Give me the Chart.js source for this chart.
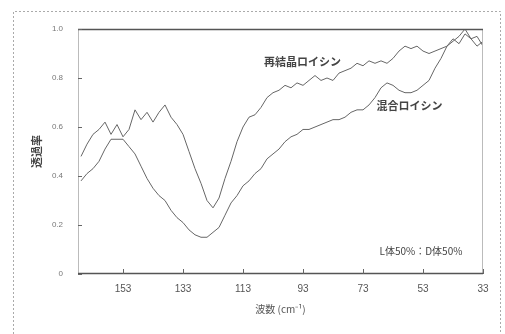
<!DOCTYPE html>
<html>
<head>
<meta charset="utf-8">
<script src="https://cdn.jsdelivr.net/npm/chart.js@4/dist/chart.umd.min.js"></script>
<style>
  html, body { margin: 0; padding: 0; background: #fff; }
  #chart { display: block; }
</style>
</head>
<body>
<canvas id="chart" width="505" height="334"></canvas>
<script>
// wave number (cm-1), read every 2 units off the picture
const waveNumbers = [167, 165, 163, 161, 159, 157, 155, 153, 151, 149, 147, 145, 143, 141, 139, 137, 135, 133, 131, 129,
    127, 125, 123, 121, 119, 117, 115, 113, 111, 109, 107, 105, 103, 101, 99, 97, 95, 93, 91, 89,
    87, 85, 83, 81, 79, 77, 75, 73, 71, 69, 67, 65, 63, 61, 59, 57, 55, 53, 51, 49,
    47, 45, 43, 41, 39, 37, 35, 33]

// 再結晶ロイシン
const recrystal = [0.48, 0.53, 0.57, 0.59, 0.62, 0.57, 0.61, 0.56, 0.59, 0.67, 0.63, 0.66, 0.62, 0.66, 0.69, 0.64, 0.61, 0.57, 0.50, 0.43,
    0.37, 0.30, 0.27, 0.31, 0.39, 0.46, 0.54, 0.60, 0.64, 0.65, 0.68, 0.72, 0.74, 0.75, 0.77, 0.76, 0.78, 0.77, 0.79, 0.81,
    0.79, 0.80, 0.79, 0.82, 0.83, 0.84, 0.86, 0.85, 0.87, 0.86, 0.87, 0.86, 0.88, 0.91, 0.93, 0.92, 0.93, 0.91, 0.90, 0.91,
    0.92, 0.93, 0.96, 0.94, 0.98, 0.96, 0.93, 0.95]

// 混合ロイシン
const mixed = [0.38, 0.41, 0.43, 0.46, 0.51, 0.55, 0.55, 0.55, 0.52, 0.49, 0.44, 0.39, 0.35, 0.32, 0.30, 0.26, 0.23, 0.21, 0.18, 0.16,
    0.15, 0.15, 0.17, 0.19, 0.24, 0.29, 0.32, 0.36, 0.38, 0.41, 0.43, 0.47, 0.49, 0.51, 0.54, 0.56, 0.57, 0.59, 0.59, 0.60,
    0.61, 0.62, 0.63, 0.63, 0.64, 0.66, 0.67, 0.67, 0.69, 0.72, 0.76, 0.78, 0.77, 0.75, 0.74, 0.74, 0.75, 0.77, 0.79, 0.84,
    0.88, 0.93, 0.95, 0.97, 1.00, 0.96, 0.97, 0.93]

const xTicks = [153, 133, 113, 93, 73, 53, 33]
const yTicks = [0, 0.2, 0.4, 0.6, 0.8, 1.0]

const labelFont = "'Liberation Sans', Arial, sans-serif"
const jpFont = "'Noto Sans CJK JP', 'Liberation Sans', sans-serif"

function toPoints(ys) {
    return waveNumbers.map((x, i) => ({ x: x, y: ys[i] }))
}

// frame, inside ticks and the text notes
const decor = {
    id: 'decor',
    beforeDraw(chart) {
        const c = chart.ctx
        c.save()
        c.strokeStyle = '#aaa'
        c.lineWidth = 1
        c.setLineDash([2, 2])
        c.beginPath()
        c.moveTo(13.5, 334)
        c.lineTo(13.5, 11.5)
        c.lineTo(500.5, 11.5)
        c.lineTo(500.5, 334)
        c.stroke()
        c.restore()
    },
    afterDatasetsDraw(chart) {
        const c = chart.ctx
        const a = chart.chartArea
        const xs = chart.scales.x
        const ys = chart.scales.y
        c.save()
        // plot box
        c.lineWidth = 1
        c.strokeStyle = '#bbb'
        c.beginPath()
        c.moveTo(Math.round(a.left) + 0.5, a.top)
        c.lineTo(Math.round(a.left) + 0.5, a.bottom)
        c.moveTo(Math.round(a.right) - 0.5, a.top)
        c.lineTo(Math.round(a.right) - 0.5, a.bottom)
        c.stroke()
        c.strokeStyle = '#555'
        c.lineWidth = 1.5
        c.beginPath()
        c.moveTo(a.left, Math.round(a.top) + 0.5)
        c.lineTo(a.right, Math.round(a.top) + 0.5)
        c.moveTo(a.left, Math.round(a.bottom) - 0.5)
        c.lineTo(a.right, Math.round(a.bottom) - 0.5)
        c.stroke()
        // ticks pointing inward
        c.lineWidth = 1
        c.strokeStyle = '#666'
        c.beginPath()
        xTicks.forEach(v => {
            const px = Math.round(xs.getPixelForValue(v)) + 0.5
            c.moveTo(px, a.bottom)
            c.lineTo(px, a.bottom - 5)
        })
        yTicks.forEach(v => {
            const py = Math.round(ys.getPixelForValue(v)) + 0.5
            c.moveTo(a.left, py)
            c.lineTo(a.left + 4, py)
        })
        c.stroke()
        // notes
        c.fillStyle = '#444'
        c.textBaseline = 'middle'
        c.font = 'bold 11px ' + jpFont
        c.fillText('再結晶ロイシン', xs.getPixelForValue(106), ys.getPixelForValue(0.865))
        c.fillText('混合ロイシン', xs.getPixelForValue(68.5), ys.getPixelForValue(0.685))
        c.font = '10px ' + jpFont
        c.fillText('L体50%：D体50%', xs.getPixelForValue(67.5), ys.getPixelForValue(0.095))
        c.restore()
    }
}

const ctx = document.getElementById('chart')

var myChart = new Chart(ctx, {
    type: 'line',
    data: {
        datasets: [{
            label: '再結晶ロイシン',
            data: toPoints(recrystal),
            borderColor: '#666',
            borderWidth: 1,
            pointRadius: 0,
            tension: 0,
            fill: false
        }, {
            label: '混合ロイシン',
            data: toPoints(mixed),
            borderColor: '#666',
            borderWidth: 1,
            pointRadius: 0,
            tension: 0,
            fill: false
        }]
    },
    options: {
        responsive: false,
        animation: false,
        layout: {
            padding: { left: 0, top: 29, right: 22, bottom: 0 }
        },
        plugins: {
            legend: { display: false },
            tooltip: { enabled: false }
        },
        scales: {
            x: {
                type: 'linear',
                reverse: true,
                min: 33,
                max: 168,
                afterBuildTicks: (scale) => {
                    scale.ticks = xTicks.map(v => ({ value: v }))
                },
                afterFit: (scale) => { scale.height = 60 },
                grid: { display: false, drawTicks: false },
                border: { display: false },
                ticks: {
                    padding: 9,
                    color: '#555',
                    font: { family: labelFont, size: 10 },
                    maxRotation: 0,
                    autoSkip: false
                },
                title: {
                    display: true,
                    text: '波数 (cm⁻¹)',
                    color: '#555',
                    font: { family: jpFont, size: 10 },
                    padding: { top: 8, bottom: 19 }
                }
            },
            y: {
                min: 0,
                max: 1.0,
                afterBuildTicks: (scale) => {
                    scale.ticks = yTicks.map(v => ({ value: v }))
                },
                afterFit: (scale) => { scale.width = 78 },
                grid: { display: false, drawTicks: false },
                border: { display: false },
                ticks: {
                    padding: 15,
                    color: '#777',
                    font: { family: labelFont, size: 8 },
                    callback: (v) => v === 0 ? '0' : v.toFixed(1)
                },
                title: {
                    display: true,
                    text: '透過率',
                    color: '#444',
                    font: { family: jpFont, size: 11, weight: 'bold' },
                    padding: { top: 30 }
                }
            }
        }
    },
    plugins: [decor]
})
</script>
</body>
</html>
